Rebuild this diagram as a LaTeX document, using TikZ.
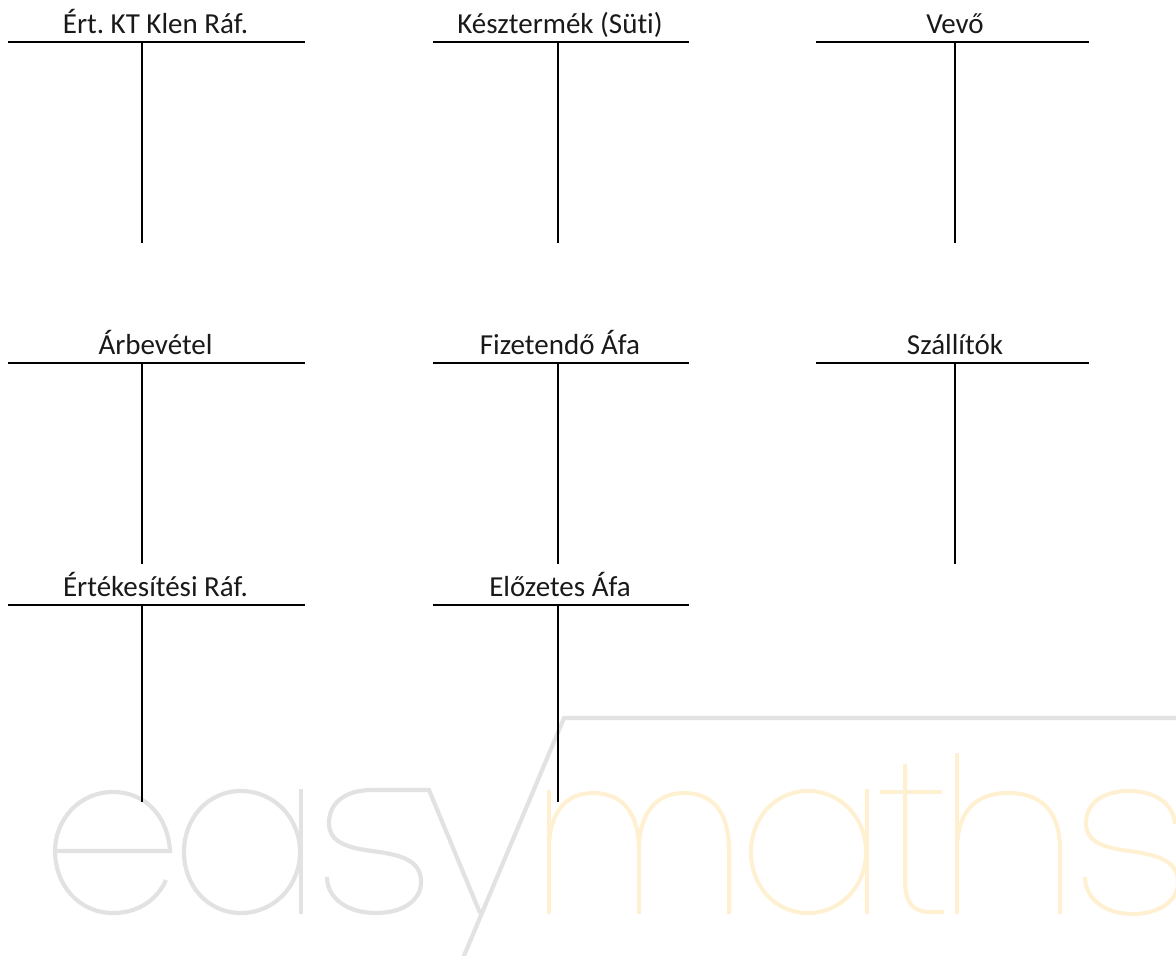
\documentclass[tikz,border=0pt]{standalone}
\usepackage{fontspec}
\setmainfont{Carlito}[Ligatures=NoCommon]
\frenchspacing
\definecolor{wmgray}{HTML}{E2E2E2}
\definecolor{wmorange}{HTML}{FFF0D2}
\tikzset{
  acctitle/.style={anchor=base,inner sep=0pt,font=\fontsize{29}{33}\selectfont,text=black!90},
  accline/.style={draw=black,line width=2pt},
  wmg/.style={draw=wmgray,line width=4.2pt,line join=miter,miter limit=10},
  wmo/.style={draw=wmorange,line width=4pt},
}
\newcommand{\taccount}[9]{%
  % #1 name, #2 title, #3 title x, #4 left, #5 right, #6 stem x, #7 rule y, #8 stem bottom y, #9 baseline y
  \node[acctitle] (#1) at (#3,#9) {#2};
  \coordinate (#1L) at (#4,#7);
  \coordinate (#1R) at (#5,#7);
  \coordinate (#1T) at (#6,#7);
  \coordinate (#1B) at (#6,#8);
  \draw[accline] (#1L) -- (#1R);
  \draw[accline] (#1T) -- (#1B);
}
\begin{document}
\begin{tikzpicture}[x=1pt,y=-1pt]
\useasboundingbox (0,0) rectangle (1176,956);
% watermark, grey part: e
\draw[wmg] (55,851) -- (170,851) .. controls (168,817) and (146,792) .. (113,792)
  .. controls (79,792) and (55,820) .. (55,851)
  .. controls (55,885) and (79,913) .. (113,913)
  .. controls (138,913) and (157,900) .. (166,880);
% a
\draw[wmg] (241,791) .. controls (208,791) and (184,818) .. (184,852)
  .. controls (184,886) and (208,913) .. (241,913)
  .. controls (274,913) and (300,886) .. (300,852)
  .. controls (300,818) and (274,791) .. (241,791);
\draw[wmg] (301,789) -- (301,914);
% s + y + slash + top rule
\draw[wmg] (480,913) -- (429,790) -- (372,790)
  .. controls (345,790) and (329,803) .. (329,823)
  .. controls (329,840) and (342,847) .. (372,851)
  .. controls (405,855) and (421,862) .. (421,882)
  .. controls (421,901) and (402,913) .. (376,913)
  .. controls (347,913) and (327,898) .. (327,877);
\draw[wmg] (463,958) -- (564,718) -- (1178,718);
% orange part: m
\draw[wmo] (549,790) -- (549,914);
\draw[wmo] (549,850) .. controls (549,812) and (566,793) .. (593,793)
  .. controls (624,793) and (639,815) .. (639,850) -- (639,914);
\draw[wmo] (639,850) .. controls (639,812) and (657,793) .. (684,793)
  .. controls (715,793) and (729,815) .. (729,850) -- (729,914);
% a
\draw[wmo] (808,791) .. controls (775,791) and (751,818) .. (751,852)
  .. controls (751,886) and (775,913) .. (808,913)
  .. controls (841,913) and (866,886) .. (866,852)
  .. controls (866,818) and (841,791) .. (808,791);
\draw[wmo] (867,789) -- (867,914);
% t
\draw[wmo] (880,792) -- (942,792);
\draw[wmo] (905,764) -- (905,880) .. controls (905,903) and (913,912) .. (930,912) -- (944,912);
% h
\draw[wmo] (957,753) -- (957,914);
\draw[wmo] (957,850) .. controls (957,812) and (975,793) .. (1008,793)
  .. controls (1045,793) and (1060,815) .. (1060,850) -- (1060,914);
% s
\draw[wmo] (1175,824) .. controls (1173,803) and (1155,791) .. (1129,791)
  .. controls (1102,791) and (1086,804) .. (1086,823)
  .. controls (1086,840) and (1099,847) .. (1129,851)
  .. controls (1160,855) and (1178,862) .. (1178,882)
  .. controls (1178,901) and (1159,914) .. (1133,914)
  .. controls (1104,914) and (1085,898) .. (1085,877);
% accounts
\taccount{a}{Ért. KT Klen Ráf.}{155.5}{8}{305}{142}{42}{243}{33}
\taccount{b}{Késztermék (Süti)}{560}{433}{689}{558}{42}{243}{33}
\taccount{c}{Vevő}{955}{816}{1089}{955}{42}{243}{33}
\taccount{d}{Árbevétel}{155.5}{8}{305}{142}{363}{564}{354}
\taccount{e}{Fizetendő Áfa}{560}{433}{689}{558}{363}{564}{354}
\taccount{f}{Szállítók}{955}{816}{1089}{955}{363}{564}{354}
\taccount{g}{Értékesítési Ráf.}{155.5}{8}{305}{142}{605}{802}{596}
\taccount{h}{Előzetes Áfa}{560}{433}{689}{558}{605}{802}{596}
\end{tikzpicture}
\end{document}
